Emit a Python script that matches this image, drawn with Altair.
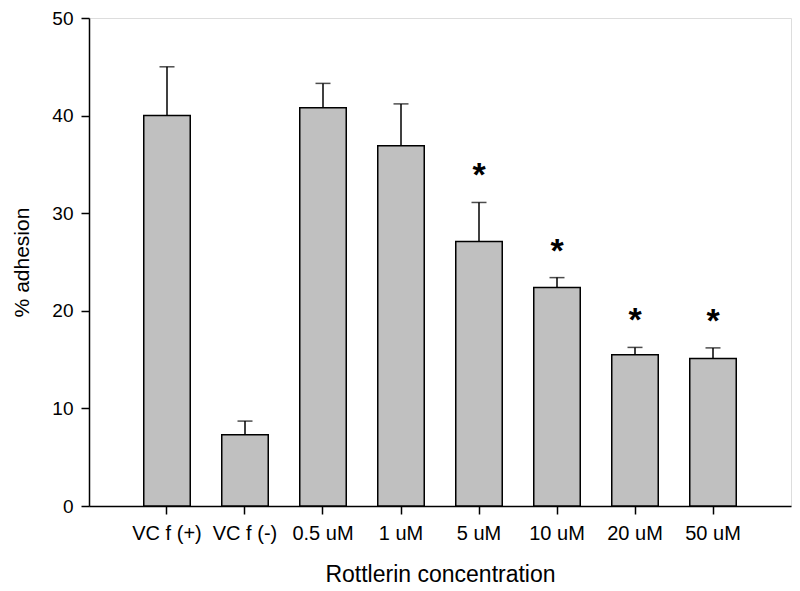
import altair as alt
import pandas as pd

labels = ["VC f (+)", "VC f (-)", "0.5 uM", "1 uM", "5 uM", "10 uM", "20 uM", "50 uM"]
means = [40.0, 7.3, 40.8, 36.9, 27.1, 22.4, 15.5, 15.1]
errs = [5.0, 1.4, 2.5, 4.3, 4.0, 1.0, 0.75, 1.1]
signif = [False, False, False, False, True, True, True, True]

df = pd.DataFrame({"cond": labels, "mean": means, "err": errs, "sig": signif})
df["top"] = df["mean"] + df["err"]
df["star"] = ["*" if s else "" for s in signif]

FONT = "Liberation Sans"

x = alt.X("cond:N", sort=labels,
          scale=alt.Scale(paddingInner=0.404, paddingOuter=0.702),
          axis=alt.Axis(title="Rottlerin concentration", labelAngle=0, labelFontSize=20,
                        titleFontSize=23, titleFontWeight="normal", tickSize=8,
                        labelPadding=9, titlePadding=20, labelColor="black",
                        titleColor="black", domainColor="black", tickColor="black",
                        domainWidth=1.5, tickWidth=1.5, labelFont=FONT, titleFont=FONT))
yscale = alt.Scale(domain=[0, 50], nice=False, zero=True)
yaxis = alt.Axis(title="% adhesion", values=[0, 10, 20, 30, 40, 50], grid=False,
                 labelFontSize=19, titleFontSize=21, titleFontWeight="normal",
                 tickSize=8, labelPadding=8, titlePadding=19, labelColor="black",
                 titleColor="black", domainColor="black", tickColor="black",
                 domainWidth=1.5, tickWidth=1.5, labelFont=FONT, titleFont=FONT)

base = alt.Chart(df)

bars = base.mark_bar(color="#c0c0c0", stroke="black", strokeWidth=1.5).encode(
    x=x,
    y=alt.Y("mean:Q", scale=yscale, axis=yaxis),
)
rule = base.mark_rule(color="black", strokeWidth=1.5).encode(
    x=alt.X("cond:N", sort=labels),
    y="mean:Q",
    y2="top:Q",
)
cap = base.mark_tick(color="black", thickness=1.5, size=15, orient="horizontal").encode(
    x=alt.X("cond:N", sort=labels),
    y="top:Q",
)
stars = base.mark_text(fontSize=34, font=FONT, fontWeight="bold", color="black",
                       baseline="middle", dy=-26).encode(
    x=alt.X("cond:N", sort=labels),
    y="top:Q",
    text="star:N",
)

chart = alt.layer(bars, rule, cap, stars).properties(
    width=702, height=488,
    autosize=alt.AutoSizeParams(type="none"),
    padding={"left": 81, "top": 10, "right": 1, "bottom": 82},
).configure_view(stroke="black", strokeWidth=1.5).configure(font=FONT)

chart.save("out.html", embed_options={"renderer": "svg", "actions": False})
